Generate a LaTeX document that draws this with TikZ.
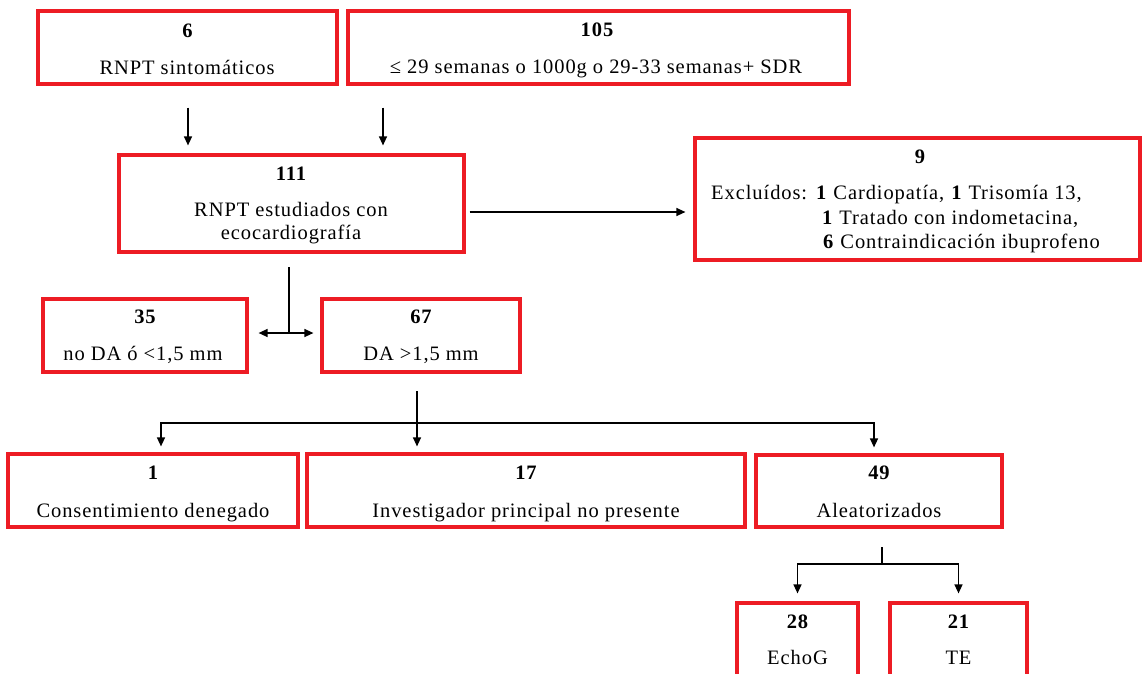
\documentclass[tikz,border=0pt]{standalone}
\usepackage{fontspec}
\setmainfont{Liberation Serif}[LetterSpace=4.5]
\usetikzlibrary{arrows.meta}
\definecolor{boxred}{RGB}{237,28,36}
\begin{document}
\begin{tikzpicture}[x=1pt,y=-1pt,
  box/.style={draw=boxred,line width=3.2pt,inner sep=0pt},
  num/.style={anchor=base,font=\fontsize{20.5}{24}\selectfont\bfseries,inner sep=0pt},
  txt/.style={anchor=base,font=\fontsize{20.5}{24}\selectfont,inner sep=0pt},
  arr/.style={-{Triangle[length=9pt,width=8pt]},line width=1.3pt},
  ln/.style={line width=1.3pt}]
\useasboundingbox (0,0) rectangle (1142,673);
\begin{scope}
\clip (-5,-5) rectangle (1147,673);
% boxes
\node[box,minimum width=299pt,minimum height=73pt] (b6) at (187.5,47.5) {};
\node[box,minimum width=501pt,minimum height=73pt] (b105) at (598.5,47.5) {};
\node[box,minimum width=345pt,minimum height=97pt] (b111) at (291.5,203.5) {};
\node[box,minimum width=445pt,minimum height=122pt] (b9) at (917.5,199) {};
\node[box,minimum width=204pt,minimum height=73pt] (b35) at (145,335.5) {};
\node[box,minimum width=198pt,minimum height=73pt] (b67) at (421,335.5) {};
\node[box,minimum width=290pt,minimum height=73pt] (b1) at (153,490.5) {};
\node[box,minimum width=438pt,minimum height=73pt] (b17) at (526,490.5) {};
\node[box,minimum width=246pt,minimum height=72pt] (b49) at (879,491) {};
\node[box,minimum width=121pt,minimum height=87pt] (b28) at (797.5,646.5) {};
\node[box,minimum width=137pt,minimum height=87pt] (b21) at (958.5,646.5) {};
\end{scope}
% texts
\node[num] (n6) at (187.5,37) {6};
\node[txt] (t6) at (187,74) {RNPT sintomáticos};
\node[num] (n105) at (597,36) {105};
\node[txt] (t105) at (596,73) {≤ 29 semanas o 1000g o 29-33 semanas+ SDR};
\node[num] (n111) at (291,180) {111};
\node[txt] (t111a) at (291,216) {RNPT estudiados con};
\node[txt] (t111b) at (291,239) {ecocardiografía};
\node[num] (n9) at (920,163) {9};
\node[txt,anchor=base west] (e1) at (711,199) {Excluídos: \textbf{1} Cardiopatía, \textbf{1} Trisomía 13,};
\node[txt,anchor=base west] (e2) at (822,224) {\textbf{1} Tratado con indometacina,};
\node[txt,anchor=base west] (e3) at (823,248) {\textbf{6} Contraindicación ibuprofeno};
\node[num] (n35) at (145,323) {35};
\node[txt] (t35) at (143,360) {no DA ó <1,5 mm};
\node[num] (n67) at (421,323) {67};
\node[txt] (t67) at (421,360) {DA >1,5 mm};
\node[num] (n1) at (153,479) {1};
\node[txt] (t1) at (153,517) {Consentimiento denegado};
\node[num] (n17) at (526,479) {17};
\node[txt] (t17) at (526,517) {Investigador principal no presente};
\node[num] (n49) at (879,479) {49};
\node[txt] (t49) at (879,517) {Aleatorizados};
\node[num] (n28) at (797.5,628) {28};
\node[txt] (t28) at (797.5,664) {EchoG};
\node[num] (n21) at (958.5,628) {21};
\node[txt] (t21) at (958.5,664) {TE};
% connector coordinates
\coordinate (c188) at (188,0);
\coordinate (c383) at (383,0);
\coordinate (y212) at (0,212);
\coordinate (s111) at (289,267);
\coordinate (j1) at (289,333);
\coordinate (s67) at (417,391);
\coordinate (j2) at (417,423);
\coordinate (c161) at (161,0);
\coordinate (c874) at (874,0);
\coordinate (s49) at (882,547);
\coordinate (j3) at (882,564);
% connectors
\draw[arr,shorten <=22pt,shorten >=8pt] (b6.south -| c188) -- (b111.north -| c188);
\draw[arr,shorten <=22pt,shorten >=8pt] (b105.south -| c383) -- (b111.north -| c383);
\draw[arr,shorten <=4pt,shorten >=8pt] (b111.east |- y212) -- (b9.west |- y212);
\draw[ln] (s111) -- (j1);
\draw[arr,shorten >=10pt] (j1) -- (b35.east |- j1);
\draw[arr,shorten >=7pt] (j1) -- (b67.west |- j1);
\draw[ln] (s67) -- (j2);
\draw[arr,shorten >=6pt] (j2) -- (b17.north -| j2);
\draw[arr,shorten >=6pt] (j2) -| (b1.north -| c161);
\draw[arr,shorten >=6pt] (j2) -| (b49.north -| c874);
\draw[ln] (s49) -- (j3);
\draw[arr,shorten >=8pt] (j3) -| (b28.north);
\draw[arr,shorten >=8pt] (j3) -| (b21.north);
\end{tikzpicture}
\end{document}
